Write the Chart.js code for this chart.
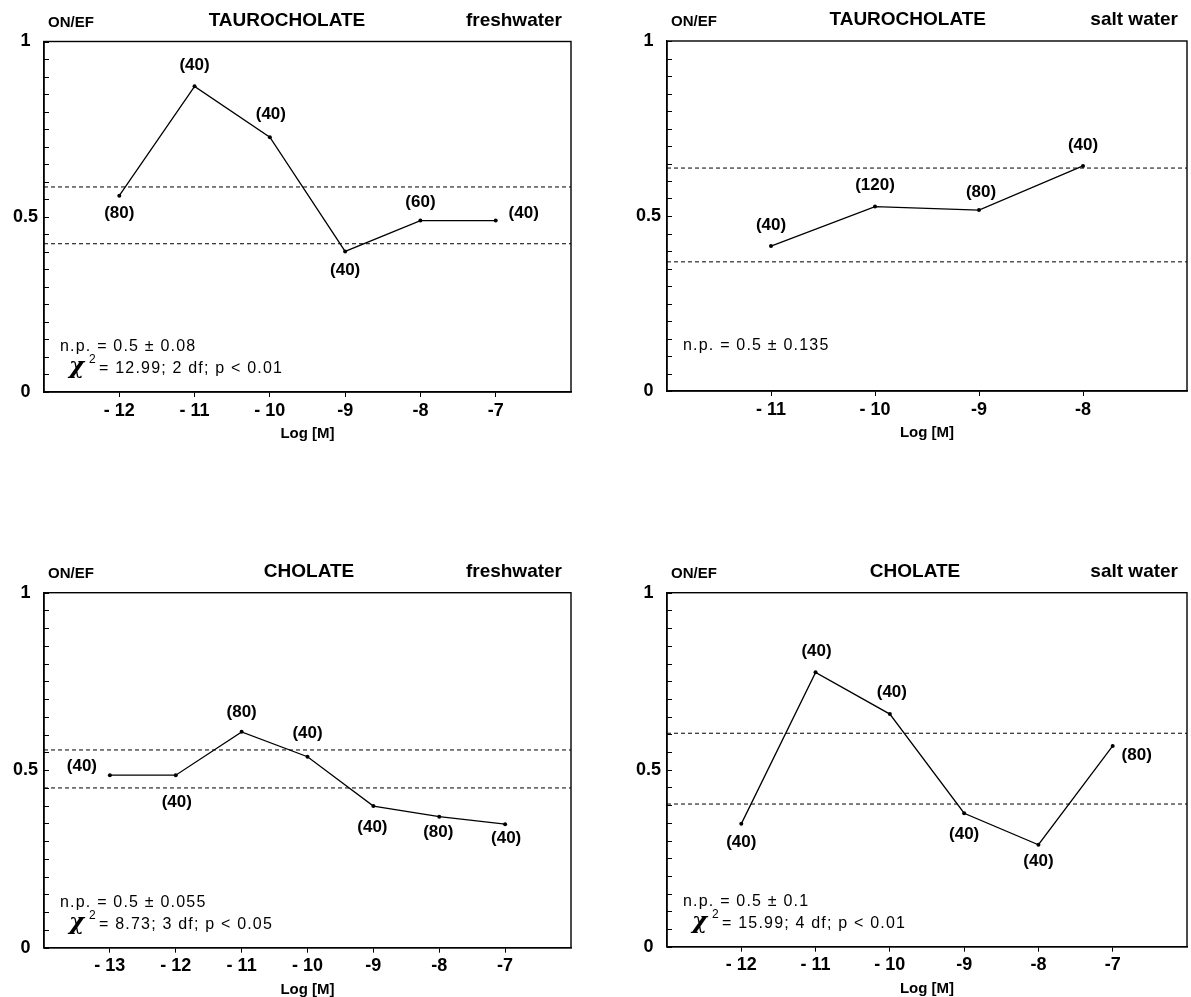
<!DOCTYPE html>
<html>
<head>
<meta charset="utf-8">
<script src="https://cdn.jsdelivr.net/npm/chart.js@4/dist/chart.umd.min.js"></script>
<style>
  html, body { margin: 0; padding: 0; background: #fff; }
  body { width: 1191px; height: 997px; position: relative; overflow: hidden; }
  canvas { position: absolute; }
</style>
</head>
<body>
<canvas id="p1" width="595" height="450" style="left:0;top:0"></canvas>
<canvas id="p2" width="596" height="450" style="left:595px;top:0"></canvas>
<canvas id="p3" width="595" height="497" style="left:0;top:500px"></canvas>
<canvas id="p4" width="596" height="497" style="left:595px;top:500px"></canvas>
<script>
// taurocholate, freshwater
const tauroFreshX = [-12, -11, -10, -9, -8, -7];
const tauroFreshY = [0.56, 0.872, 0.727, 0.401, 0.489, 0.489];
const tauroFreshN = ['(80)', '(40)', '(40)', '(40)', '(60)', '(40)'];
const tauroFreshBand = [0.585, 0.423];

// taurocholate, salt water
const tauroSaltX = [-11, -10, -9, -8];
const tauroSaltY = [0.414, 0.527, 0.517, 0.643];
const tauroSaltN = ['(40)', '(120)', '(80)', '(40)'];
const tauroSaltBand = [0.637, 0.369];

// cholate, freshwater
const cholFreshX = [-13, -12, -11, -10, -9, -8, -7];
const cholFreshY = [0.486, 0.486, 0.608, 0.538, 0.399, 0.369, 0.348];
const cholFreshN = ['(40)', '(40)', '(80)', '(40)', '(40)', '(80)', '(40)'];
const cholFreshBand = [0.557, 0.45];

// cholate, salt water
const cholSaltX = [-12, -11, -10, -9, -8, -7];
const cholSaltY = [0.347, 0.775, 0.657, 0.377, 0.288, 0.567];
const cholSaltN = ['(40)', '(40)', '(40)', '(40)', '(40)', '(80)'];
const cholSaltBand = [0.603, 0.403];

// where each (n) label sits relative to its point
const tauroFreshOff = [[0, 18], [0, -21], [1, -23], [0, 19], [0, -18], [28, -7]];
const tauroSaltOff = [[0, -21], [0, -21], [2, -18], [0, -21]];
const cholFreshOff = [[-28, -9], [1, 27], [0, -20], [0, -23], [-1, 21], [-1, 16], [1, 14]];
const cholSaltOff = [[0, 18], [1, -21], [2, -22], [0, 21], [0, 17], [24, 9]];

const FONT = '"Liberation Sans", Arial, sans-serif';

const panelText = {
    id: 'panelText',
    afterDraw(chart, args, opts) {
        const ctx = chart.ctx;
        const a = chart.chartArea;
        ctx.save();
        ctx.strokeStyle = '#000';
        ctx.fillStyle = '#000';

        // frame
        ctx.lineWidth = 1.4;
        ctx.strokeRect(a.left, a.top, a.right - a.left, a.bottom - a.top);

        // small inward ticks on the y axis
        ctx.lineWidth = 1;
        const ys = chart.scales.y;
        ys.ticks.forEach(t => {
            const py = Math.round(ys.getPixelForValue(t.value)) + 0.5;
            ctx.beginPath();
            ctx.moveTo(a.left, py);
            ctx.lineTo(a.left + 5, py);
            ctx.stroke();
        });

        // header line
        ctx.textBaseline = 'alphabetic';
        ctx.font = 'bold 15px ' + FONT;
        ctx.textAlign = 'left';
        ctx.fillText('ON/EF', a.left + 4, a.top - 15);
        ctx.font = 'bold 19px ' + FONT;
        ctx.textAlign = 'center';
        ctx.fillText(opts.title, a.left + opts.titleAt * (a.right - a.left), a.top - 16);
        ctx.textAlign = 'right';
        ctx.fillText(opts.medium, a.right - 9, a.top - 16);

        // x axis title
        ctx.font = 'bold 15px ' + FONT;
        ctx.textAlign = 'center';
        ctx.fillText('Log [M]', (a.left + a.right) / 2, a.bottom + 46);

        // sample sizes next to the points
        const meta = chart.getDatasetMeta(0);
        ctx.font = 'bold 17px ' + FONT;
        ctx.textBaseline = 'middle';
        meta.data.forEach((pt, i) => {
            const off = opts.offsets[i];
            ctx.fillText(opts.labels[i], pt.x + off[0], pt.y + off[1]);
        });

        // statistics
        ctx.textBaseline = 'alphabetic';
        ctx.textAlign = 'left';
        ctx.font = '16px ' + FONT;
        ctx.letterSpacing = '1.2px';
        ctx.fillText(opts.np, a.left + 16, a.bottom - 41);
        if (opts.chi) {
            ctx.letterSpacing = '0px';
            ctx.font = 'italic bold 23px "DejaVu Serif", serif';
            ctx.fillText('\u03C7', a.left + 25, a.bottom - 19);
            ctx.font = '12px ' + FONT;
            ctx.fillText('2', a.left + 45, a.bottom - 29);
            ctx.font = '16px ' + FONT;
            ctx.letterSpacing = '1.2px';
            ctx.fillText(opts.chi, a.left + 55, a.bottom - 19);
        }
        ctx.restore();
    }
};

function makePanel(id, xs, ys, band, labels, offsets, xMin, xMax, box, text) {
    const points = xs.map((x, i) => ({ x: x, y: ys[i] }));
    const dashed = v => ({
        data: [{ x: xMin, y: v }, { x: xMax, y: v }],
        borderColor: '#000',
        borderWidth: 1,
        borderDash: [4, 3],
        pointRadius: 0
    });
    return new Chart(document.getElementById(id), {
        type: 'line',
        data: {
            datasets: [
                {
                    data: points,
                    borderColor: '#000',
                    borderWidth: 1.3,
                    backgroundColor: '#000',
                    pointRadius: 2,
                    pointBorderWidth: 0,
                    tension: 0
                },
                dashed(band[0]),
                dashed(band[1])
            ]
        },
        options: {
            responsive: false,
            animation: false,
            layout: { padding: { top: box.top, right: box.right, left: 0, bottom: 0 } },
            plugins: {
                legend: { display: false },
                tooltip: { enabled: false },
                panelText: Object.assign({ labels: labels, offsets: offsets }, text)
            },
            scales: {
                x: {
                    type: 'linear',
                    min: xMin,
                    max: xMax,
                    afterBuildTicks: scale => { scale.ticks = xs.map(v => ({ value: v })); },
                    afterFit: scale => { scale.height = box.xh; },
                    grid: { drawOnChartArea: false, drawTicks: true, tickLength: 5, color: '#000', lineWidth: 1 },
                    border: { display: true, color: '#000', width: 1.4 },
                    ticks: {
                        color: '#000',
                        padding: 3,
                        maxRotation: 0,
                        font: { family: FONT, size: 18, weight: 'bold' },
                        callback: v => (v <= -10 ? '- ' + (-v) : String(v))
                    }
                },
                y: {
                    min: 0,
                    max: 1,
                    afterFit: scale => { scale.width = box.yw; },
                    grid: { drawOnChartArea: false, drawTicks: false },
                    border: { display: true, color: '#000', width: 1.4 },
                    ticks: {
                        stepSize: 0.05,
                        autoSkip: false,
                        color: '#000',
                        padding: 6,
                        crossAlign: 'center',
                        font: { family: FONT, size: 18, weight: 'bold' },
                        callback: v => {
                            if (Math.abs(v) < 1e-9) return '0';
                            if (Math.abs(v - 0.5) < 1e-9) return '0.5';
                            if (Math.abs(v - 1) < 1e-9) return '1';
                            return '';
                        }
                    }
                }
            }
        },
        plugins: [panelText]
    });
}

makePanel('p1', tauroFreshX, tauroFreshY, tauroFreshBand, tauroFreshN, tauroFreshOff, -13, -6,
    { top: 41.5, right: 24, yw: 44, xh: 58 },
    { title: 'TAUROCHOLATE', titleAt: 0.461, medium: 'freshwater',
      np: 'n.p. = 0.5 \u00B1 0.08', chi: '= 12.99; 2 df; p < 0.01' });

makePanel('p2', tauroSaltX, tauroSaltY, tauroSaltBand, tauroSaltN, tauroSaltOff, -12, -7,
    { top: 41, right: 3, yw: 72, xh: 59 },
    { title: 'TAUROCHOLATE', titleAt: 0.463, medium: 'salt water',
      np: 'n.p. = 0.5 \u00B1 0.135', chi: null });

makePanel('p3', cholFreshX, cholFreshY, cholFreshBand, cholFreshN, cholFreshOff, -14, -6,
    { top: 92.7, right: 24, yw: 44, xh: 49.3 },
    { title: 'CHOLATE', titleAt: 0.503, medium: 'freshwater',
      np: 'n.p. = 0.5 \u00B1 0.055', chi: '= 8.73; 3 df; p < 0.05' });

makePanel('p4', cholSaltX, cholSaltY, cholSaltBand, cholSaltN, cholSaltOff, -13, -6,
    { top: 92.7, right: 3, yw: 72, xh: 50.3 },
    { title: 'CHOLATE', titleAt: 0.477, medium: 'salt water',
      np: 'n.p. = 0.5 \u00B1 0.1', chi: '= 15.99; 4 df; p < 0.01' });
</script>
</body>
</html>
